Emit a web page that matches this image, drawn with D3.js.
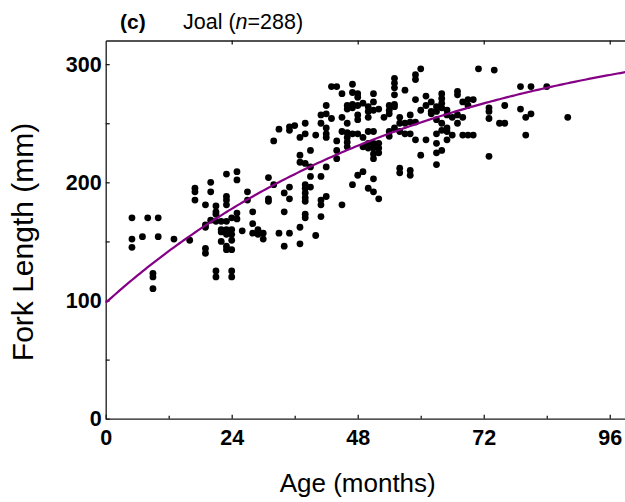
<!DOCTYPE html>
<html>
<head>
<meta charset="utf-8">
<script src="https://cdn.jsdelivr.net/npm/d3@7"></script>
<style>
  html, body { margin: 0; padding: 0; background: #fff; }
  svg { display: block; }
  text { font-family: "Liberation Sans", Arial, sans-serif; }
</style>
</head>
<body>
<svg id="chart" width="625" height="502"></svg>
<script>
// Age (months) of each sampled fish, Joal
const ageMonths = [
  5,8,10,5,5,7,10,13,16,9,9,9,17,17,17,20,20,23,25,25,19,21,21,21,23,23,23,27,27,31,31,31,32,25,28,20,19,19,21,22,
  23,24,25,28,22,22,23,23,24,24,24,26,28,29,29,30,30,33,22,23,24,23,19,19,21,21,24,24,34,37,
  60,59,59,55,55,55,55,57,47,43,44,45,47,48,48,51,51,49,46,46,47,47,48,50,50,52,54,54,55,54,59,61,61,62,62,60,63,63,
  42,42,41,43,41,45,48,48,46,50,51,53,56,58,58,59,56,55,54,54,56,57,58,59,61,63,63,63,63,60,33,35,36,35,32,38,38,37,
  40,42,42,42,44,45,46,46,46,46,47,48,50,51,49,50,51,51,51,52,52,52,44,44,39,37,37,38,39,42,39,41,35,34,35,38,38,38,
  38,38,39,42,41,41,45,34,38,38,41,37,35,40,47,48,49,51,50,51,52,56,56,58,58,55,57,49,50,51,
  64,64,64,64,65,65,66,67,68,67,67,67,68,69,70,69,65,63,64,64,64,65,66,68,69,70,65,73,73,73,73,75,76,76,71,74,79,81,
  84,79,80,81,80,88,62
];

// Fork length (mm) of each sampled fish, same order as ageMonths
const forkLength = [
  170,170,170,152,145,154,154,152,151,123,120,110,195,192,185,200,192,207,209,202,181,180,175,173,188,185,181,192,185,204,186,184,198,174,175,168,164,162,167,167,
  167,170,169,165,160,158,160,156,160,156,151,159,157,160,156,157,152,157,150,146,143,143,144,140,125,120,125,120,146,148,
  296,291,287,288,284,280,274,278,283,281,281,275,276,275,272,275,268,267,265,262,266,263,265,264,260,262,265,261,266,258,270,273,265,268,260,261,264,260,
  265,258,257,254,250,255,257,253,250,255,261,255,255,257,251,251,250,246,243,239,243,241,241,236,236,241,233,225,215,223,245,247,248,244,235,250,241,238,
  240,246,241,238,235,243,242,238,234,230,241,241,243,243,230,229,229,224,220,233,229,225,227,220,227,223,217,216,213,213,205,205,196,191,186,198,195,191,
  187,184,196,188,185,181,181,175,173,170,171,162,157,155,198,206,209,203,195,192,186,212,208,210,206,264,250,238,233,233,
  275,271,267,263,261,257,255,257,255,250,277,274,268,270,270,265,246,253,250,244,227,236,240,240,240,240,243,263,260,254,222,250,250,265,296,295,281,281,
  281,262,255,258,240,255,258
];

// Von Bertalanffy growth parameters of the fitted curve
const growthLinf = 340;
const growthK = 0.0166;
const growthT0 = -20.5;

// Axis ticks
const xMajorTicks = [0, 24, 48, 72, 96];
const xMinorTicks = [12, 36, 60, 84];
const yMajorTicks = [0, 100, 200, 300];
const yMinorTicks = [50, 150, 250];

const svg = d3.select("#chart");
const plotLeft = 105.7, plotRight = 625.5, plotTop = 40.5, plotBottom = 418.7;

const x = d3.scaleLinear().domain([0, 99]).range([plotLeft, plotRight]);
const y = d3.scaleLinear().domain([0, 320]).range([plotBottom, plotTop]);

const axisColor = "#1a1a1a";

// Bottom axis with inward ticks
svg.append("g")
  .attr("transform", `translate(0,${plotBottom})`)
  .call(d3.axisBottom(x).tickValues(xMajorTicks).tickSizeInner(-4).tickSizeOuter(0).tickPadding(11)
    .tickFormat(d3.format("d")));
svg.append("g")
  .attr("transform", `translate(0,${plotBottom})`)
  .call(d3.axisBottom(x).tickValues(xMinorTicks).tickSizeInner(-3).tickSizeOuter(0).tickFormat(""))
  .call(g => g.select(".domain").remove());

// Top frame line with major ticks pointing down
svg.append("g")
  .attr("transform", `translate(0,${plotTop})`)
  .call(d3.axisTop(x).tickValues(xMajorTicks.slice(1)).tickSizeInner(-4).tickSizeOuter(0).tickFormat(""));

// Left axis with inward ticks
svg.append("g")
  .attr("transform", `translate(${plotLeft},0)`)
  .call(d3.axisLeft(y).tickValues(yMajorTicks).tickSizeInner(-4).tickSizeOuter(0).tickPadding(4)
    .tickFormat(d3.format("d")));
svg.append("g")
  .attr("transform", `translate(${plotLeft},0)`)
  .call(d3.axisLeft(y).tickValues(yMinorTicks).tickSizeInner(-4).tickSizeOuter(0).tickFormat(""))
  .call(g => g.select(".domain").remove());

svg.selectAll(".domain, .tick line")
  .attr("stroke", axisColor)
  .attr("stroke-width", 1.3);

svg.selectAll(".tick text")
  .attr("font-family", "'Liberation Sans', Arial, sans-serif")
  .attr("font-size", 21.5)
  .attr("font-weight", "bold")
  .attr("fill", "#000");

// Data points
const points = ageMonths.map((a, i) => ({ age: a, fl: forkLength[i] }));
svg.append("g")
  .selectAll("circle")
  .data(points)
  .join("circle")
  .attr("cx", d => x(d.age))
  .attr("cy", d => y(d.fl))
  .attr("r", 3.4)
  .attr("fill", "#000");

// Fitted growth curve
const curveAges = d3.range(0, 99.01, 0.5);
const vbgf = t => growthLinf * (1 - Math.exp(-growthK * (t - growthT0)));
svg.append("path")
  .datum(curveAges)
  .attr("fill", "none")
  .attr("stroke", "#850085")
  .attr("stroke-width", 2.2)
  .attr("d", d3.line().x(t => x(t)).y(t => y(vbgf(t))));

// Axis titles
svg.append("text")
  .attr("x", x(48))
  .attr("y", 492)
  .attr("text-anchor", "middle")
  .attr("font-size", 26)
  .text("Age (months)");

svg.append("text")
  .attr("transform", `translate(33,242) rotate(-90)`)
  .attr("text-anchor", "middle")
  .attr("font-size", 30)
  .text("Fork Length (mm)");

// Panel label
svg.append("text")
  .attr("x", 120)
  .attr("y", 29)
  .attr("font-size", 21)
  .attr("font-weight", "bold")
  .text("(c)");

const title = svg.append("text")
  .attr("x", 183)
  .attr("y", 29)
  .attr("font-size", 21.5);
title.append("tspan").text("Joal (");
title.append("tspan").attr("font-style", "italic").text("n");
title.append("tspan").text("=288)");
</script>
</body>
</html>
